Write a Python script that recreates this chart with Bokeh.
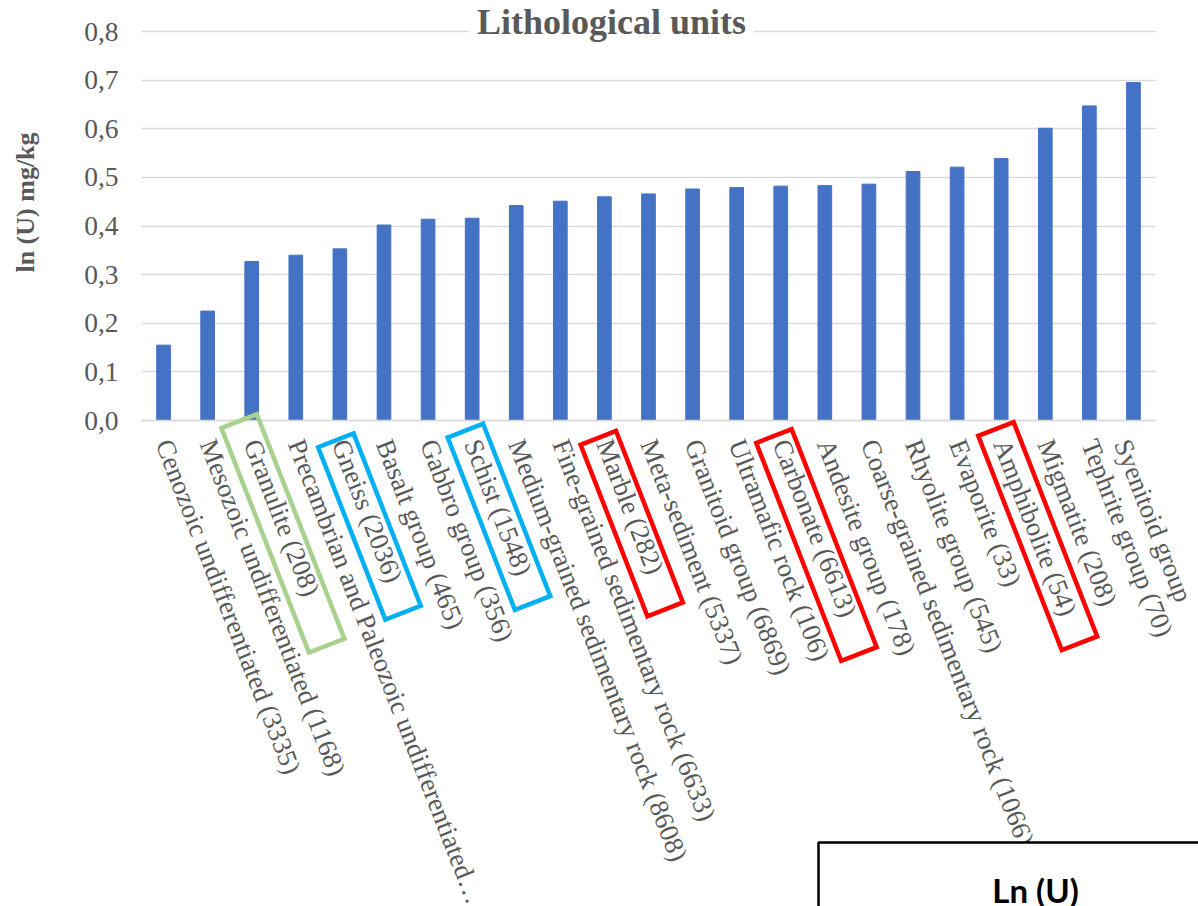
import math

from bokeh.embed import file_html
from bokeh.models import (CustomJSTickFormatter, FixedTicker, Label, PolyAnnotation,
                          Range1d)
from bokeh.plotting import figure
from bokeh.resources import INLINE

# ln(U) per lithological unit (sample count in brackets)
units = [
    "Cenozoic undifferentiated (3335)",
    "Mesozoic undifferentiated (1168)",
    "Granulite (208)",
    "Precambrian and Paleozoic undifferentiated\u2026",
    "Gneiss (2036)",
    "Basalt group (465)",
    "Gabbro group (356)",
    "Schist (1548)",
    "Medium-grained sedimentary rock (8608)",
    "Fine-grained sedimentary rock (6633)",
    "Marble (282)",
    "Meta-sediment (5337)",
    "Granitoid group (6869)",
    "Ultramafic rock (106)",
    "Carbonate (6613)",
    "Andesite group (178)",
    "Coarse-grained sedimentary rock (1066)",
    "Rhyolite group (545)",
    "Evaporite (33)",
    "Amphibolite (54)",
    "Migmatite (208)",
    "Tephrite group (70)",
    "Syenitoid group",
]
ln_u = [0.155, 0.225, 0.327, 0.340, 0.353, 0.402, 0.414, 0.416, 0.442, 0.451,
        0.460, 0.466, 0.476, 0.479, 0.482, 0.483, 0.486, 0.512, 0.521, 0.539,
        0.601, 0.647, 0.695]
y_ticks = [0.0, 0.1, 0.2, 0.3, 0.4, 0.5, 0.6, 0.7, 0.8]

# highlighted units and the colour of the frame drawn round their labels
marked_units = ["Granulite (208)", "Gneiss (2036)", "Schist (1548)",
                "Marble (282)", "Carbonate (6613)", "Amphibolite (54)"]
marked_colors = ["#a9d18e", "#00b0f0", "#00b0f0", "#ff0000", "#ff0000", "#ff0000"]

GREY = "#595959"
SERIF = "Liberation Serif"
LABEL_ANGLE = 68.7  # degrees below horizontal

W, H = 1198, 906
# plot area inside the canvas (pixels)
LEFT, RIGHT, TOP, BOTTOM = 141, 1155, 31, 420
Y_MAX = 0.8
n = len(units)
px_per_cat = (RIGHT - LEFT) / n
px_per_unit = (BOTTOM - TOP) / Y_MAX

# the frame spans the whole canvas; axes are pinned to the plot area edges
x_lo = -0.5 - LEFT / px_per_cat
x_hi = n - 0.5 + (W - RIGHT) / px_per_cat
y_lo = -(H - BOTTOM) / px_per_unit
y_hi = Y_MAX + TOP / px_per_unit

positions = list(range(n))

p = figure(
    width=W, height=H,
    x_range=Range1d(x_lo, x_hi), y_range=Range1d(y_lo, y_hi),
    output_backend="svg", toolbar_location=None, min_border=0,
)
p.outline_line_color = None
p.background_fill_color = "white"
p.border_fill_color = "white"

p.vbar(x=positions, top=ln_u, width=0.31, color="#4472c4")

# y axis and horizontal gridlines
y_ticker = FixedTicker(ticks=y_ticks)
yax = p.yaxis[0]
yax.ticker = y_ticker
yax.fixed_location = -0.5
yax.bounds = (0, Y_MAX)
yax.formatter = CustomJSTickFormatter(code="return tick.toFixed(1).replace('.', ',');")
yax.axis_line_color = None
yax.major_tick_line_color = None
yax.minor_tick_line_color = None
yax.major_tick_out = 0
yax.major_tick_in = 0
yax.major_label_standoff = 23
yax.major_label_text_font = SERIF
yax.major_label_text_font_size = "27.5px"
yax.major_label_text_color = GREY

p.xgrid.grid_line_color = None
ygrid = p.ygrid[0]
ygrid.ticker = y_ticker
ygrid.bounds = (0, Y_MAX)
ygrid.cross_bounds = (-0.5, n - 0.5)
ygrid.grid_line_color = "#d9d9d9"
ygrid.grid_line_width = 1.5

# category axis along y = 0
xax = p.xaxis[0]
xax.ticker = FixedTicker(ticks=positions)
xax.major_label_overrides = {i: name for i, name in enumerate(units)}
xax.fixed_location = 0
xax.bounds = (-0.5, n - 0.5)
xax.axis_line_color = "#d9d9d9"
xax.axis_line_width = 1.5
xax.major_tick_line_color = None
xax.minor_tick_line_color = None
xax.major_tick_out = 0
xax.major_tick_in = 0
xax.major_label_standoff = 20
xax.major_label_orientation = -math.radians(LABEL_ANGLE)
xax.major_label_text_font = SERIF
xax.major_label_text_font_size = "26.8px"
xax.major_label_text_color = GREY


def sx_to_x(sx):
    return (sx - LEFT) / px_per_cat - 0.5


def sy_to_y(sy):
    return (BOTTOM - sy) / px_per_unit


# chart title, sitting on the top gridline
p.add_layout(Label(
    x=sx_to_x(611), y=sy_to_y(21), text="Lithological units",
    text_align="center", text_baseline="alphabetic",
    text_font=SERIF, text_font_size="36px", text_font_style="bold",
    text_color=GREY, background_fill_color="white", padding=8,
))

# y axis title
p.add_layout(Label(
    x=sx_to_x(25), y=sy_to_y(202), text="ln (U) mg/kg", angle=math.pi / 2,
    text_align="center", text_baseline="middle",
    text_font=SERIF, text_font_size="26px", text_font_style="bold",
    text_color=GREY,
))

# frames round the highlighted labels: (start along label, offset across, length)
frame_geom = {
    "Granulite (208)": (-4, -12, 241),
    "Gneiss (2036)": (17, -11, 185),
    "Schist (1548)": (7, -10, 185),
    "Marble (282)": (14, -12, 184),
    "Carbonate (6613)": (12, -12, 234),
    "Amphibolite (54)": (6, -8, 230),
}
theta = math.radians(LABEL_ANGLE)
dx, dy = math.cos(theta), math.sin(theta)       # along the label (screen, y down)
nx, ny = math.sin(theta), -math.cos(theta)      # across the label
half_w = 19
for name, color in zip(marked_units, marked_colors):
    along, across, length = frame_geom[name]
    cx = LEFT + (units.index(name) + 0.5) * px_per_cat
    cy = BOTTOM
    x0 = cx + along * dx + across * nx
    y0 = cy + along * dy + across * ny
    x1 = x0 + length * dx
    y1 = y0 + length * dy
    pts = [
        (x0 + half_w * nx, y0 + half_w * ny),
        (x1 + half_w * nx, y1 + half_w * ny),
        (x1 - half_w * nx, y1 - half_w * ny),
        (x0 - half_w * nx, y0 - half_w * ny),
    ]
    p.add_layout(PolyAnnotation(
        xs=[sx_to_x(a) for a, _ in pts], ys=[sy_to_y(b) for _, b in pts],
        xs_units="data", ys_units="data",
        fill_alpha=0, line_color=color, line_alpha=1, line_width=4.5,
        line_join="miter",
    ))

# framed caption in the lower right corner
box = [(818, 842), (W + 20, 842), (W + 20, H + 20), (818, H + 20)]
p.add_layout(PolyAnnotation(
    xs=[sx_to_x(a) for a, _ in box], ys=[sy_to_y(b) for _, b in box],
    xs_units="data", ys_units="data",
    fill_color="white", fill_alpha=1, line_color="black", line_alpha=1,
    line_width=2.5,
))
p.add_layout(Label(
    x=sx_to_x(1035), y=sy_to_y(889), text="Ln (U)",
    text_align="center", text_baseline="alphabetic",
    text_font="Lato", text_font_size="33px", text_font_style="bold",
    text_color="black",
))

open("out.html", "w").write(file_html(p, INLINE))
